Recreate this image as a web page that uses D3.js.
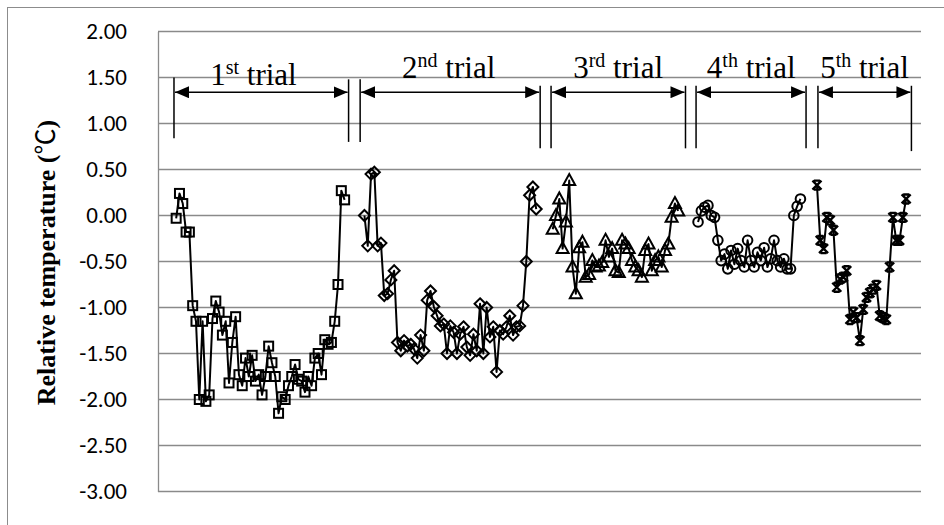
<!DOCTYPE html>
<html><head><meta charset="utf-8">
<script src="https://cdn.jsdelivr.net/npm/d3@7"></script>
<style>
html,body{margin:0;padding:0;background:#fff;overflow:hidden;}
svg{display:block;}
</style></head>
<body>
<script>
// ---------------- data ----------------
const yTicks = [2.00, 1.50, 1.00, 0.50, 0.00, -0.50, -1.00, -1.50, -2.00, -2.50, -3.00];
const nCategories = 231;
const trialNames = ["1", "2", "3", "4", "5"];
const trialSuffix = ["st", "nd", "rd", "th", "th"];
const trialStart = [5, 62, 119, 163, 199];
const trial1 = [-0.03, 0.24, 0.13, -0.18, -0.18, -0.98, -1.15, -2.00, -1.15, -2.02, -1.95, -1.12, -0.93, -1.05, -1.30, -1.15, -1.82, -1.38, -1.10, -1.73, -1.85, -1.55, -1.75, -1.52, -1.80, -1.73, -1.95, -1.75, -1.42, -1.60, -1.75, -2.15, -1.97, -2.00, -1.85, -1.75, -1.62, -1.78, -1.80, -1.92, -1.75, -1.85, -1.55, -1.50, -1.73, -1.35, -1.40, -1.38, -1.15, -0.75, 0.27, 0.17];
const trial2 = [0.00, -0.33, 0.45, 0.47, -0.33, -0.30, -0.87, -0.85, -0.70, -0.60, -1.38, -1.47, -1.36, -1.42, -1.40, -1.45, -1.55, -1.30, -1.47, -0.92, -0.82, -0.99, -1.09, -1.20, -1.18, -1.50, -1.20, -1.27, -1.50, -1.29, -1.21, -1.43, -1.52, -1.29, -1.47, -0.96, -1.50, -1.00, -1.32, -1.21, -1.70, -1.25, -1.29, -1.21, -1.09, -1.30, -1.21, -1.20, -0.98, -0.50, 0.22, 0.31, 0.07];
const trial3 = [-0.15, 0.00, 0.18, -0.36, -0.07, 0.38, -0.56, -0.85, -0.35, -0.29, -0.67, -0.64, -0.49, -0.56, -0.55, -0.51, -0.27, -0.45, -0.36, -0.60, -0.62, -0.27, -0.31, -0.36, -0.49, -0.56, -0.60, -0.67, -0.38, -0.31, -0.60, -0.49, -0.45, -0.56, -0.38, -0.31, -0.02, 0.13, 0.05];
const trial4 = [-0.07, 0.05, 0.09, 0.11, 0.00, -0.02, -0.27, -0.49, -0.42, -0.58, -0.38, -0.53, -0.36, -0.49, -0.56, -0.27, -0.49, -0.56, -0.40, -0.49, -0.35, -0.56, -0.47, -0.27, -0.49, -0.56, -0.47, -0.58, -0.58, 0.00, 0.10, 0.18];
const trial5 = [0.33, -0.27, -0.36, -0.02, -0.05, -0.16, -0.78, -0.69, -0.67, -0.60, -1.13, -1.05, -1.11, -1.36, -1.02, -0.89, -0.84, -0.80, -0.76, -1.09, -1.11, -1.13, -0.56, -0.02, -0.27, -0.27, -0.02, 0.18];
const markers = ["square", "diamond", "triangle", "circle", "cross"];
// annotation brackets (category-axis units)
const bracketLeft  = [4.84, 61.2, 119.0, 162.9, 199.8];
const bracketRight = [57.7, 115.7, 159.7, 196.2, 228.1];
const bracketTopL = [1.50, 1.48, 1.41, 1.41, 1.41];
const bracketBotL = [0.84, 0.80, 0.73, 0.73, 0.73];
const bracketTopR = [1.48, 1.41, 1.41, 1.41, 1.41];
const bracketBotR = [0.80, 0.73, 0.73, 0.73, 0.70];
const arrowY = [1.34, 1.34, 1.34, 1.34, 1.34];
const labelX = [28.9, 88.0, 139.3, 179.6, 213.9];
const labelY = [1.42, 1.49, 1.49, 1.49, 1.49];
const yTitleText = "Relative temperature (";
const yTitleUnit = "℃";

const series = [trial1, trial2, trial3, trial4, trial5];

// ---------------- layout ----------------
const W = 944, H = 525;
const plot = {left: 158, right: 921, top: 31.5, bottom: 491.5};

const svg = d3.select("body").append("svg").attr("width", W).attr("height", H);

// chart-area frame (only its top and left edges fall inside the picture)
svg.append("rect").attr("x", 7.5).attr("y", 7.5).attr("width", 1000).attr("height", 600)
  .attr("fill", "#fff").attr("stroke", "#8c8c8c").attr("stroke-width", 1);

const x = d3.scaleLinear().domain([0, nCategories]).range([plot.left, plot.right]);
const y = d3.scaleLinear().domain([-3, 2]).range([plot.bottom, plot.top]);

// gridlines
svg.append("g").selectAll("line").data(yTicks).join("line")
  .attr("x1", plot.left).attr("x2", plot.right)
  .attr("y1", d => y(d)).attr("y2", d => y(d))
  .attr("stroke", "#8a8a8a").attr("stroke-width", 1.3);

// y axis
const fmt = d3.format(".2f");
const yAxis = d3.axisLeft(y).tickValues(yTicks).tickFormat(d => fmt(d).replace("−", "-")).tickSize(0).tickPadding(31);
const gy = svg.append("g").attr("transform", `translate(${plot.left},0)`).call(yAxis);
gy.select(".domain").attr("stroke", "#8a8a8a").attr("stroke-width", 1.3);
gy.selectAll("text").attr("font-family", "Carlito, 'Liberation Sans', Arial, sans-serif")
  .attr("font-size", 23).attr("fill", "#000");

// y title
const yt = svg.append("text")
  .attr("transform", `translate(55,${(plot.top + plot.bottom) / 2 + 1}) rotate(-90)`)
  .attr("text-anchor", "middle")
  .attr("font-family", "'Liberation Serif', 'Times New Roman', serif")
  .attr("font-weight", "bold").attr("font-size", 26);
yt.append("tspan").text(yTitleText);
yt.append("tspan").attr("font-family", "'Noto Sans CJK SC', sans-serif").attr("font-weight", "normal").text(yTitleUnit);
yt.append("tspan").text(")");

// series
const line = d3.line().x(d => x(d.i + 0.5)).y(d => y(d.v));
series.forEach((vals, s) => {
  const pts = vals.map((v, k) => ({i: trialStart[s] + k, v}));
  const g = svg.append("g");
  g.append("path").datum(pts).attr("d", line)
    .attr("fill", "none").attr("stroke", "#000").attr("stroke-width", 2).attr("stroke-linejoin", "round");
  const m = markers[s];
  const mg = g.selectAll("g.m").data(pts).join("g")
    .attr("transform", d => `translate(${x(d.i + 0.5)},${y(d.v)})`);
  if (m === "square") {
    mg.append("rect").attr("x", -4.5).attr("y", -4.5).attr("width", 9).attr("height", 9)
      .attr("fill", "none").attr("stroke", "#000").attr("stroke-width", 2);
  } else if (m === "diamond") {
    mg.append("path").attr("d", "M0,-5.5L5.5,0L0,5.5L-5.5,0Z")
      .attr("fill", "none").attr("stroke", "#000").attr("stroke-width", 2);
  } else if (m === "triangle") {
    mg.append("path").attr("d", "M0,-6.5L6,4.5L-6,4.5Z")
      .attr("fill", "none").attr("stroke", "#000").attr("stroke-width", 2);
  } else if (m === "circle") {
    mg.append("circle").attr("r", 4.8)
      .attr("fill", "none").attr("stroke", "#000").attr("stroke-width", 2);
  } else {
    mg.append("path").attr("d", "M-4.5,-4.5L4.5,4.5M4.5,-4.5L-4.5,4.5M-3,-4.5L3,-4.5M-3,4.5L3,4.5")
      .attr("fill", "none").attr("stroke", "#000").attr("stroke-width", 2.4);
  }
});

// annotations
const ann = svg.append("g");
const defs = svg.append("defs");
defs.append("marker").attr("id", "ah").attr("viewBox", "0 0 14 12").attr("refX", 14).attr("refY", 6)
  .attr("markerWidth", 14).attr("markerHeight", 12).attr("markerUnits", "userSpaceOnUse").attr("orient", "auto-start-reverse")
  .append("path").attr("d", "M0,0L14,6L0,12Z").attr("fill", "#000");

trialNames.forEach((n, t) => {
  const xl = x(bracketLeft[t]), xr = x(bracketRight[t]);
  ann.append("line").attr("x1", xl).attr("x2", xl).attr("y1", y(bracketTopL[t])).attr("y2", y(bracketBotL[t]))
    .attr("stroke", "#000").attr("stroke-width", 1.5);
  ann.append("line").attr("x1", xr).attr("x2", xr).attr("y1", y(bracketTopR[t])).attr("y2", y(bracketBotR[t]))
    .attr("stroke", "#000").attr("stroke-width", 1.5);
  ann.append("line").attr("x1", xl + 1).attr("x2", xr - 1).attr("y1", y(arrowY[t])).attr("y2", y(arrowY[t]))
    .attr("stroke", "#000").attr("stroke-width", 1.5)
    .attr("marker-start", "url(#ah)").attr("marker-end", "url(#ah)");
  const txt = ann.append("text")
    .attr("x", x(labelX[t])).attr("y", y(labelY[t]))
    .attr("text-anchor", "middle")
    .attr("font-family", "'Liberation Serif', 'Times New Roman', serif")
    .attr("font-size", 31).attr("fill", "#000");
  txt.append("tspan").text(n);
  txt.append("tspan").attr("font-size", 20).attr("dy", -11).text(trialSuffix[t]);
  txt.append("tspan").attr("dy", 11).text(" trial");
});
</script>
</body></html>
